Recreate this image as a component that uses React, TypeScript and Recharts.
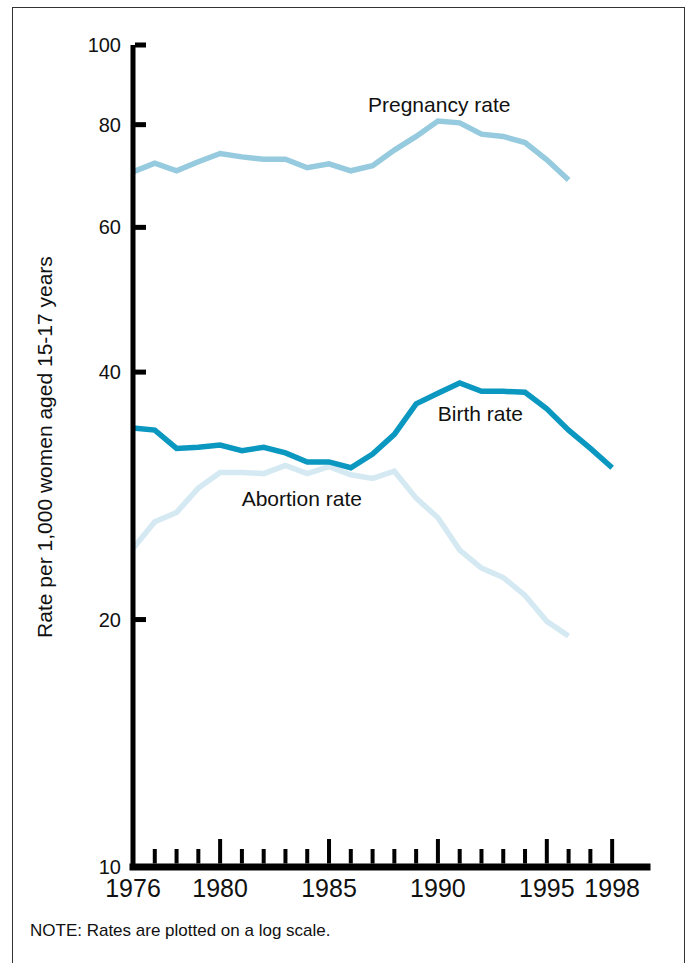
import { Line, LineChart, ReferenceDot, XAxis, YAxis } from 'recharts';

const years = [
  1976, 1977, 1978, 1979, 1980, 1981, 1982, 1983, 1984, 1985, 1986, 1987,
  1988, 1989, 1990, 1991, 1992, 1993, 1994, 1995, 1996, 1997, 1998,
];

// rates per 1,000 women aged 15-17
const pregnancyRate = [
  70.1, 71.8, 70.3, 72.1, 73.8, 73.1, 72.6, 72.6, 70.9, 71.7, 70.3, 71.3,
  74.5, 77.4, 80.8, 80.4, 77.9, 77.4, 76.1, 72.5, 68.5,
];
const birthRate = [
  34.2, 34.0, 32.3, 32.4, 32.6, 32.1, 32.4, 31.9, 31.1, 31.1, 30.6, 31.8,
  33.6, 36.6, 37.7, 38.8, 37.9, 37.9, 37.8, 36.1, 34.0, 32.3, 30.6,
];
const abortionRate = [
  24.4, 26.3, 27.0, 28.9, 30.2, 30.2, 30.1, 30.8, 30.1, 30.7, 30.0, 29.7,
  30.3, 28.1, 26.6, 24.3, 23.1, 22.5, 21.4, 19.9, 19.1,
];

const yTicks = [10, 20, 40, 60, 80, 100];
const labelYears = [1976, 1980, 1985, 1990, 1995, 1998];
const majorYears = [1980, 1985, 1990, 1995, 1998];

const data = years.map((year, i) => ({
  year,
  pregnancy: pregnancyRate[i] ?? null,
  birth: birthRate[i] ?? null,
  abortion: abortionRate[i] ?? null,
}));

const FONT = '"Liberation Sans", Arial, Helvetica, sans-serif';

function XTick({ x, y, payload }: any) {
  const year = payload.value;
  const tall = majorYears.includes(year);
  const len = tall ? 24.5 : 14.5;
  return (
    <g>
      {year !== 1976 && <rect x={x - 2} y={y - 3.5 - len} width={4} height={len} fill="#000" />}
      {labelYears.includes(year) && (
        <text x={x} y={y + 30} textAnchor="middle" fontSize={25} fontFamily={FONT} fill="#111">
          {year}
        </text>
      )}
    </g>
  );
}

function YTick({ x, y, payload }: any) {
  return (
    <g>
      {payload.value !== 10 && <rect x={x + 2} y={y - 2.5} width={11} height={5} fill="#000" />}
      <text x={x - 12} y={y + 7} textAnchor="end" fontSize={20} fontFamily={FONT} fill="#111">
        {payload.value}
      </text>
    </g>
  );
}

function YTitle({ viewBox }: any) {
  const cx = viewBox.x + 44;
  const cy = viewBox.y + viewBox.height / 2 - 9;
  return (
    <text
      x={cx}
      y={cy}
      transform={`rotate(-90 ${cx} ${cy})`}
      textAnchor="middle"
      dominantBaseline="central"
      fontSize={21}
      fontFamily={FONT}
      fill="#111"
    >
      Rate per 1,000 women aged 15-17 years
    </text>
  );
}

function Note({ viewBox, text }: any) {
  const cx = viewBox.x + viewBox.width / 2;
  const cy = viewBox.y + viewBox.height / 2;
  return (
    <text x={cx} y={cy} textAnchor="middle" dominantBaseline="central" fontSize={21} fontFamily={FONT} fill="#111">
      {text}
    </text>
  );
}

export default function App() {
  return (
    <div style={{ position: 'absolute', left: 0, top: 0, width: 688, height: 963, overflow: 'hidden', background: '#fff' }}>
      <div
        style={{
          position: 'absolute',
          left: 12,
          top: 7,
          width: 671,
          height: 980,
          borderLeft: '1.5px solid #333',
          borderTop: '1.5px solid #333',
          borderRight: '1.5px solid #333',
        }}
      />
      <div style={{ position: 'absolute', left: 0, top: 0 }}>
        <LineChart width={688} height={963} data={data} margin={{ top: 45, right: 41, bottom: 36, left: 0 }}>
          <XAxis
            dataKey="year"
            type="number"
            domain={[1976, 1999.6]}
            ticks={years}
            interval={0}
            tickLine={false}
            tickSize={0}
            tickMargin={0}
            height={60}
            axisLine={{ stroke: '#000', strokeWidth: 7, strokeLinecap: 'square' }}
            tick={<XTick />}
          />
          <YAxis
            type="number"
            scale="log"
            domain={[10, 100]}
            allowDataOverflow
            ticks={yTicks}
            interval={0}
            width={133}
            tickLine={false}
            tickSize={0}
            tickMargin={0}
            axisLine={{ stroke: '#000', strokeWidth: 5 }}
            tick={<YTick />}
            label={<YTitle />}
          />
          <Line type="linear" dataKey="abortion" stroke="#d5e9f3" strokeWidth={5.5} dot={false} isAnimationActive={false} connectNulls={false} />
          <Line type="linear" dataKey="pregnancy" stroke="#96cade" strokeWidth={5.5} dot={false} isAnimationActive={false} connectNulls={false} />
          <Line type="linear" dataKey="birth" stroke="#0a97c0" strokeWidth={5.5} dot={false} isAnimationActive={false} connectNulls={false} />
          <ReferenceDot x={1990.06} y={84.6} r={0} fill="none" stroke="none" label={<Note text="Pregnancy rate" />} />
          <ReferenceDot x={1991.95} y={35.6} r={0} fill="none" stroke="none" label={<Note text="Birth rate" />} />
          <ReferenceDot x={1983.75} y={28.1} r={0} fill="none" stroke="none" label={<Note text="Abortion rate" />} />
        </LineChart>
      </div>
      <div
        style={{
          position: 'absolute',
          left: 30,
          top: 922,
          fontSize: 17,
          lineHeight: 1,
          fontFamily: FONT,
          color: '#111',
          whiteSpace: 'nowrap',
        }}
      >
        NOTE: Rates are plotted on a log scale.
      </div>
    </div>
  );
}
